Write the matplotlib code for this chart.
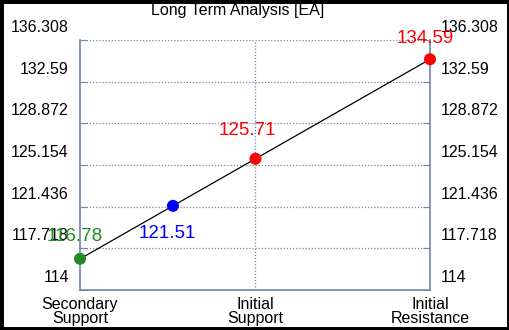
import matplotlib
matplotlib.use("Agg")
import matplotlib.pyplot as plt
import matplotlib.transforms as mtransforms
from matplotlib.patches import Rectangle

plt.rcParams['font.family'] = ['Liberation Sans', 'DejaVu Sans']

# data
categories = ["Secondary\nSupport", "Initial\nSupport", "Initial\nResistance"]
point_values = [116.78, 121.51, 125.71, 134.59]
point_colors = ["#228B22", "#0000FF", "#FF0000", "#FF0000"]
label_offsets = [(-5, 22), (-6, -28), (-8, 28), (-5, 21)]  # pixels
ytick_values = [114, 117.718, 121.436, 125.154, 128.872, 132.59, 136.308]
ytick_labels = ["114", "117.718", "121.436", "125.154", "128.872", "132.59", "136.308"]

# x position of each point follows the straight line from first to last value
v0, v1 = point_values[0], point_values[-1]
xs = [(len(categories) - 1) * (v - v0) / (v1 - v0) for v in point_values]

fig = plt.figure(figsize=(5.1, 3.3), dpi=100)
ax = fig.add_axes([80 / 510, 40 / 330, 350 / 510, 250 / 330])

spine_col = "#7088AA"
ax.set_xlim(0, len(categories) - 1)
ax.set_ylim(ytick_values[0], ytick_values[-1])

# grid
for y in ytick_values[1:]:
    ax.axhline(y, color=spine_col, lw=0.9, ls=(0, (1, 1.5)), zorder=1)
ax.axvline(1, color=spine_col, lw=0.9, ls=(0, (1, 1.5)), zorder=1)

for s in ["left", "right", "bottom"]:
    ax.spines[s].set_color(spine_col)
    ax.spines[s].set_linewidth(1.2)
ax.spines["top"].set_visible(False)

ax.plot(xs, point_values, color="black", lw=0.9, zorder=2)
ax.scatter(xs, point_values, c=point_colors, s=75, zorder=3, edgecolors="none", clip_on=False)
for x, v, c, (dx, dy) in zip(xs, point_values, point_colors, label_offsets):
    ax.annotate(f"{v:.2f}", (x, v), xytext=(dx, dy), textcoords="offset pixels",
                ha="center", va="center", color=c, fontsize=13.5, zorder=4)

ax.set_yticks(ytick_values)
ax.set_yticklabels(ytick_labels)
ax.tick_params(axis="y", which="both", direction="in", length=5, color=spine_col,
               labelsize=11.5, left=True, right=True, labelleft=True, labelright=True, pad=8)
ax.set_xticks(range(len(categories)))
ax.set_xticklabels(categories, linespacing=0.95)
ax.tick_params(axis="x", length=0, labelsize=11.5, pad=5)

# tick labels sit a little above their gridlines
shift = mtransforms.ScaledTranslation(0, 14 / 100, fig.dpi_scale_trans)
for t in ax.yaxis.get_major_ticks():
    t.label1.set_transform(t.label1.get_transform() + shift)
    t.label2.set_transform(t.label2.get_transform() + shift)

fig.text(238 / 510, 1 - 10 / 330, "Long Term Analysis [EA]", ha="center", va="center", fontsize=11.5)

fig.patches.append(Rectangle((0, 0), 1, 1, transform=fig.transFigure, fill=False,
                             edgecolor="black", lw=5, zorder=10))

fig.savefig("out.png", dpi=100, facecolor="white")
